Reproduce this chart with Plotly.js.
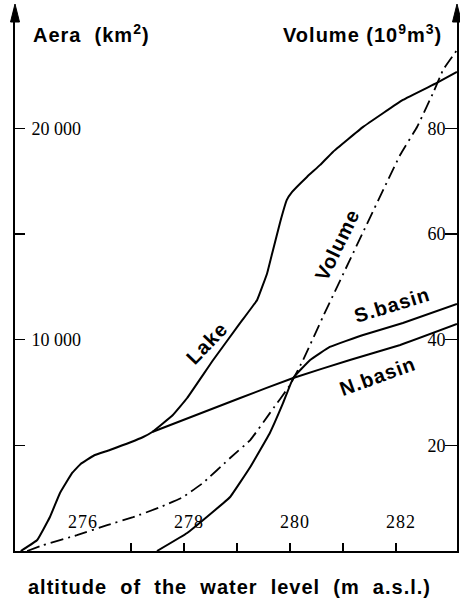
<!DOCTYPE html>
<html>
<head>
<meta charset="utf-8">
<script src="https://cdn.plot.ly/plotly-3.0.1.min.js"></script>
<style>
html,body{margin:0;padding:0;background:#fff;}
.annotation-text{letter-spacing:1px;}
</style>
</head>
<body>
<div id="chart" style="width:460px;height:598px;"></div>
<script>
// Altitude of the water level (m a.s.l.) and area (km²) / volume (10^9 m³)
const lakeAlt  = [274.92, 275.23, 275.47, 275.66, 275.89, 276.05, 276.30, 276.60, 277.23, 277.40, 277.79, 278.06, 278.55, 279.06, 279.38, 279.57, 279.68, 279.81, 279.94, 280.04, 280.32, 280.57, 280.81, 281.38, 282.13, 282.77, 283.15];
const lakeArea = [0, 520, 1609, 2745, 3692, 4120, 4520, 4780, 5396, 5632, 6437, 7241, 9040, 10791, 11880, 13158, 14247, 15525, 16613, 16992, 17702, 18270, 18885, 20068, 21346, 22150, 22671];

const nAlt  = [277.40, 279.06, 280.06, 281.13, 282.08, 283.15];
const nArea = [5632, 7241, 8188, 9040, 9750, 10744];

const sAlt  = [277.49, 278.06, 278.43, 278.87, 279.25, 279.62, 279.87, 280.06, 280.38, 280.75, 281.38, 282.13, 283.15];
const sArea = [0, 852, 1609, 2556, 3976, 5585, 7005, 8188, 9040, 9655, 10223, 10791, 11690];

const volAlt = [275.04, 275.34, 275.98, 276.55, 277.04, 277.55, 277.98, 278.36, 278.87, 279.25, 279.62, 280.00, 280.25, 280.62, 281.13, 282.08, 282.40, 282.70, 282.89, 283.15];
const volume = [0, 1.1, 3.0, 4.9, 6.4, 8.3, 10.2, 12.9, 17.6, 21.0, 26.1, 31.4, 36.2, 44.3, 55.1, 75.0, 80.3, 86.7, 91.1, 94.8];

const xTickVals = [276, 277, 278, 279, 280, 281, 282, 283];
const xLabelVals = [276, 278, 280, 282];
const xLabelText = ['276', '278', '280', '282'];
const areaTickVals = [5000, 10000, 15000, 20000];
const areaTickText = [' ', '10 000', ' ', '20 000'];
const volTickVals = [20, 40, 60, 80];
const volTickText = ['20', '40', '60', '80'];

const lineStyle = {color: '#000', width: 2, shape: 'spline', smoothing: 0.25};
const traces = [
  {x: lakeAlt, y: lakeArea, mode: 'lines', line: lineStyle, name: 'Lake'},
  {x: nAlt, y: nArea, mode: 'lines', line: lineStyle, name: 'N.basin'},
  {x: sAlt, y: sArea, mode: 'lines', line: lineStyle, name: 'S.basin'},
  {x: volAlt, y: volume, yaxis: 'y2', mode: 'lines', name: 'Volume',
   line: {color: '#000', width: 1.8, dash: '13px,5px,2px,5px', shape: 'spline', smoothing: 0.25}}
];

const serif = {family: 'Liberation Serif, Times New Roman, serif', size: 18, color: '#000'};
const bold = {family: 'Liberation Sans, Arial, sans-serif', size: 20, color: '#000'};

const arrow = (xa) => ({
  type: 'path', xref: 'paper', yref: 'paper', xsizemode: 'pixel', ysizemode: 'pixel',
  xanchor: xa, yanchor: 1, path: 'M -4.5 -12 L 0 6 L 4.5 -12 Z',
  fillcolor: '#000', line: {color: '#000', width: 1}
});

const xLabels = xLabelVals.map((v, i) => ({
  x: v, xref: 'x', y: 0, yref: 'paper', yshift: 29, xshift: 5,
  text: xLabelText[i], showarrow: false, font: serif,
  xanchor: 'center', yanchor: 'middle'
}));

const layout = {
  width: 460, height: 598,
  margin: {l: 15, r: 3, t: 10, b: 47},
  paper_bgcolor: '#fff', plot_bgcolor: '#fff',
  showlegend: false,
  xaxis: {
    range: [274.811, 283.151], showgrid: false, zeroline: false,
    showline: true, linecolor: '#000', linewidth: 2,
    tickmode: 'array', tickvals: xTickVals, showticklabels: false,
    ticks: 'inside', ticklen: 8, tickwidth: 1.5, tickcolor: '#000'
  },
  yaxis: {
    range: [0, 25600], showgrid: false, zeroline: false,
    showline: true, linecolor: '#000', linewidth: 2,
    tickmode: 'array', tickvals: areaTickVals, ticktext: areaTickText,
    ticks: 'inside', ticklen: 10, tickwidth: 1.5, tickcolor: '#000',
    ticklabelposition: 'inside', tickfont: serif, ticklabelstandoff: 7
  },
  yaxis2: {
    overlaying: 'y', side: 'right', range: [0, 102.4],
    showgrid: false, zeroline: false,
    showline: true, linecolor: '#000', linewidth: 2,
    tickmode: 'array', tickvals: volTickVals, ticktext: volTickText,
    ticks: 'inside', ticklen: 12, tickwidth: 1.5, tickcolor: '#000',
    ticklabelposition: 'inside', tickfont: serif
  },
  shapes: [arrow(0), arrow(1)],
  annotations: xLabels.concat([
    {xref: 'paper', yref: 'paper', x: 0.174, y: 0.957, text: '<b>Aera  (km<sup>2</sup>)</b>', showarrow: false, font: bold, xanchor: 'center', yanchor: 'middle'},
    {xref: 'paper', yref: 'paper', x: 0.787, y: 0.957, text: '<b>Volume (10<sup>9</sup>m<sup>3</sup>)</b>', showarrow: false, font: bold, xanchor: 'center', yanchor: 'middle'},
    {xref: 'paper', yref: 'paper', x: 0.486, y: -0.0665, text: '<b>altitude  of  the  water  level  (m  a.s.l.)</b>', showarrow: false, font: bold, xanchor: 'center', yanchor: 'middle'},
    {x: 278.43, y: 9845, text: '<b>Lake</b>', textangle: -46, showarrow: false, font: bold},
    {x: 280.89, y: 14483, text: '<b>Volume</b>', textangle: -64, showarrow: false, font: bold},
    {x: 281.92, y: 11643, text: '<b>S.basin</b>', textangle: -17, showarrow: false, font: bold},
    {x: 281.66, y: 8283, text: '<b>N.basin</b>', textangle: -20, showarrow: false, font: bold}
  ])
};

Plotly.newPlot('chart', traces, layout, {displayModeBar: false, staticPlot: true});
</script>
</body>
</html>
